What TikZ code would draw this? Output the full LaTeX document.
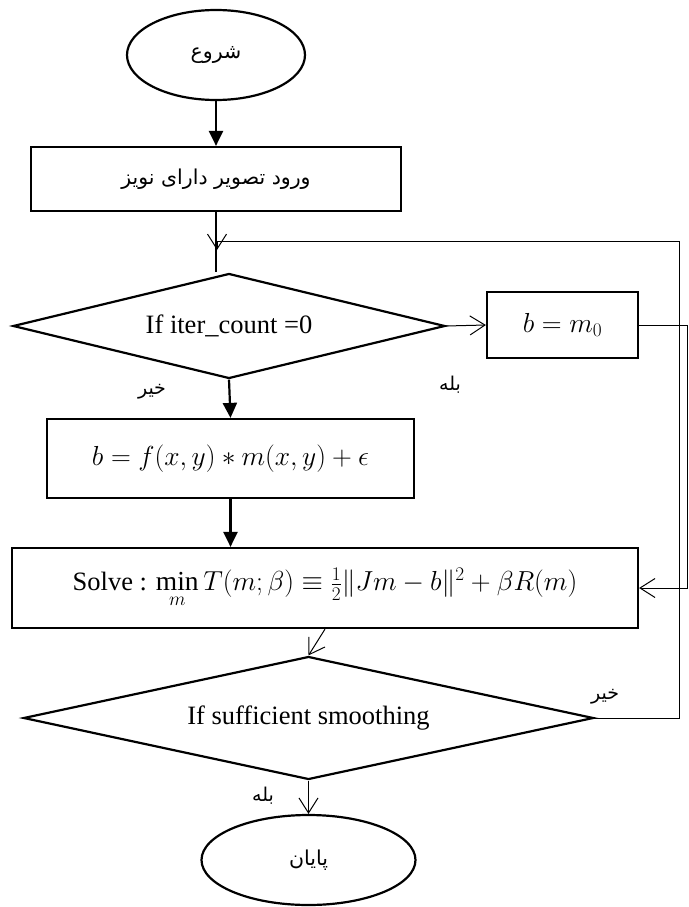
\RequirePackage{fix-cm}
\documentclass[tikz,border=0pt]{standalone}
\usepackage{amsmath}
\usepackage{fontspec}
\setmainfont{Liberation Serif}
\newfontfamily\farsi[Script=Arabic]{DejaVu Sans}
\TeXXeTstate=1
\usetikzlibrary{shapes.geometric,arrows.meta}
\newcommand{\mth}[1]{{\fontsize{27.5}{33}\selectfont$#1$}}
\tikzset{
  base/.style={draw, line width=2.2pt, inner sep=0pt, font=\fontsize{26.5}{32}\selectfont},
  proc/.style={base, rectangle},
  term/.style={base, ellipse},
  dec/.style={base, diamond},
  fa/.style={font=\farsi\fontsize{20.5}{24}\selectfont},
  lbl/.style={inner sep=0pt, font=\farsi\fontsize{19}{22}\selectfont},
  thickarrow/.style={line width=2.2pt, -{Triangle[length=15pt,width=14pt]}},
  thickline/.style={line width=2.2pt},
  thinarrow/.style={line width=1pt, -{Straight Barb[length=15pt,width=19pt]}},
  thinline/.style={line width=1pt},
}
\begin{document}
\begin{tikzpicture}[x=1pt,y=-1pt]
\useasboundingbox (0,0) rectangle (688,907);

\node[term, minimum width=178, minimum height=90, fa] (start) at (216,55) {\beginR شروع\endR};
\node[proc, minimum width=370, minimum height=64, fa] (input) at (216,179) {\beginR ورود تصویر دارای نویز\endR};
\node[dec, aspect=4.1, minimum width=432, minimum height=105] (d1) at (229,326) {If iter\_count =0};
\node[proc, minimum width=151, minimum height=66] (bm) at (562.5,325) {\mth{b=m_0}};
\node[proc, minimum width=367, minimum height=79] (model) at (230.5,458.5) {\mth{b=f(x,y)*m(x,y)+\epsilon}};
\node[proc, minimum width=626, minimum height=80] (solve) at (325,588) {Solve : \mth{\min\limits_m T(m;\beta)\equiv\tfrac{1}{2}\|Jm-b\|^2+\beta R(m)}};
\node[dec, aspect=4.63, minimum width=570, minimum height=123] (d2) at (308.5,718) {If sufficient smoothing};
\node[term, minimum width=214, minimum height=90, fa] (stop) at (308.5,860) {\beginR پایان\endR};

\node[lbl] (no1) at (152,392) {\beginR خیر\endR};
\node[lbl] (yes1) at (450,385) {\beginR بله\endR};
\node[lbl] (no2) at (605,697) {\beginR خیر\endR};
\node[lbl] (yes2) at (263,796) {\beginR بله\endR};

\coordinate (loopR) at (679,241);
\coordinate (loopL) at (217,241);
\coordinate (loopEnd) at (217,250);
\coordinate (bmR) at (687,325);

\draw[thickarrow] (start) -- (input);
\draw[thickline] (input.south) -- (input.south |- d1.north);
\draw[thinarrow] (d1.east) -- (bm.west);
\draw[thickarrow] (d1.south) -- (model.north);
\draw[thickarrow] (model.south) -- (model.south |- solve.north);
\draw[thinarrow] (solve.south) -- (d2.north);
\draw[thinarrow] (d2.south) -- (stop.north);
\draw[thinline] (bm.east) -- (bmR);
\draw[thinarrow] (bmR) |- (solve.east);
\draw[thinline] (d2.east) -| (loopR) -- (loopL);
\draw[thinarrow] (loopL) -- (loopEnd);
\end{tikzpicture}
\end{document}
